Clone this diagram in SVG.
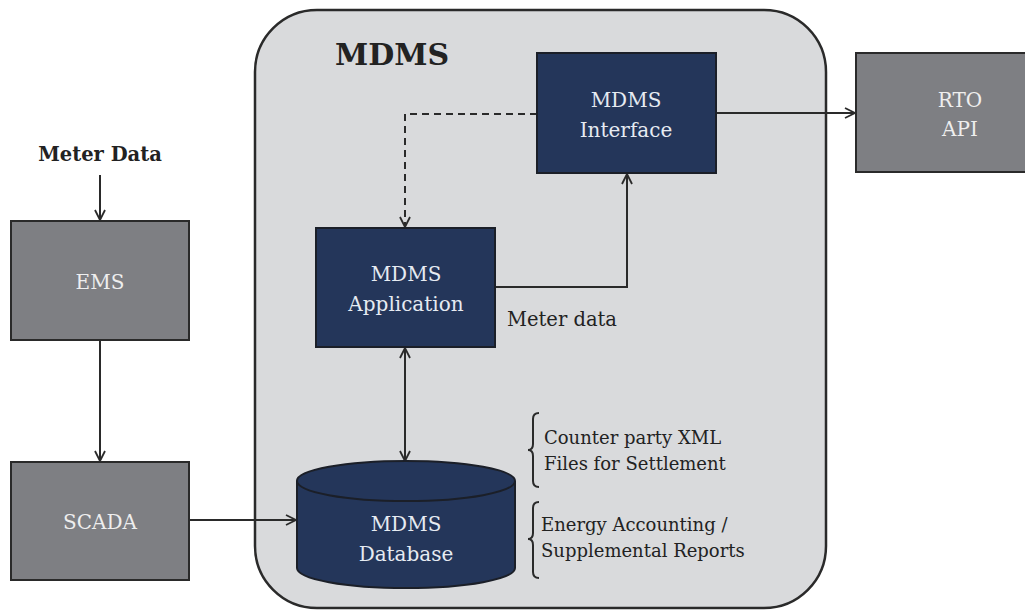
<svg xmlns="http://www.w3.org/2000/svg" width="1025" height="610" viewBox="0 0 1025 610">
<style>
.t{font-family:"DejaVu Serif","Liberation Serif",serif;}
.navy{fill:#24365a;stroke:#1b1f28;stroke-width:2;}
.grey{fill:#7e7f83;stroke:#2a2a2a;stroke-width:2;}
.wt{fill:#e6ebf2;font-size:20px;text-anchor:middle;}
.gt{fill:#eeeeee;font-size:20px;text-anchor:middle;}
.dk{fill:#222222;}
.ln{fill:none;stroke:#2a2a2a;stroke-width:2;}
</style>
<defs>
<marker id="ah" viewBox="0 0 12 12" refX="11" refY="6" markerWidth="12" markerHeight="12" markerUnits="userSpaceOnUse" orient="auto-start-reverse">
<path d="M1,1 L11,6 L1,11" fill="none" stroke="#2a2a2a" stroke-width="1.8"/>
</marker>
</defs>
<rect width="1025" height="610" fill="#ffffff"/>
<g id="mdms-container">
<rect x="255" y="10" width="571" height="598" rx="62" fill="#d9dadc" stroke="#2a2a2a" stroke-width="2.5"/>
<text class="t dk" x="335" y="65" font-size="30" font-weight="bold">MDMS</text>
</g>
<g id="connectors">
<line class="ln" x1="100" y1="175" x2="100" y2="220" marker-end="url(#ah)"/>
<line class="ln" x1="100" y1="340" x2="100" y2="461" marker-end="url(#ah)"/>
<line class="ln" x1="189" y1="520" x2="296" y2="520" marker-end="url(#ah)"/>
<line class="ln" x1="716" y1="113" x2="855" y2="113" marker-end="url(#ah)"/>
<polyline class="ln" points="537,114 405,114 405,227" stroke-dasharray="7,5" marker-end="url(#ah)"/>
<polyline class="ln" points="495,287 627,287 627,174" marker-end="url(#ah)"/>
<line class="ln" x1="405" y1="348" x2="405" y2="461" marker-start="url(#ah)" marker-end="url(#ah)"/>
</g>
<g id="meter-data-label">
<text class="t dk" x="100" y="161" font-size="19.5" font-weight="bold" text-anchor="middle">Meter Data</text>
</g>
<g id="ems">
<rect class="grey" x="11" y="221" width="178" height="119"/>
<text class="t gt" x="100" y="289">EMS</text>
</g>
<g id="scada">
<rect class="grey" x="11" y="462" width="178" height="118"/>
<text class="t gt" x="100" y="529">SCADA</text>
</g>
<g id="rto-api">
<rect class="grey" x="856" y="53" width="175" height="119"/>
<text class="t gt" x="960" y="107">RTO</text>
<text class="t gt" x="960" y="136">API</text>
</g>
<g id="mdms-interface">
<rect class="navy" x="537" y="53" width="179" height="120"/>
<text class="t wt" x="626" y="107">MDMS</text>
<text class="t wt" x="626" y="137">Interface</text>
</g>
<g id="mdms-application">
<rect class="navy" x="316" y="228" width="179" height="119"/>
<text class="t wt" x="406" y="281">MDMS</text>
<text class="t wt" x="406" y="311">Application</text>
<text class="t dk" x="507" y="326" font-size="19.5">Meter data</text>
</g>
<g id="mdms-database">
<path class="navy" d="M297,481 L297,568 A109,20 0 0 0 515,568 L515,481 A109,20 0 0 0 297,481 Z"/>
<path d="M297,481 A109,20 0 0 0 515,481" fill="none" stroke="#1b1f28" stroke-width="2"/>
<text class="t wt" x="406" y="531">MDMS</text>
<text class="t wt" x="406" y="561">Database</text>
</g>
<g id="outputs">
<path class="ln" stroke-width="1.5" d="M539,413 Q533,413 533,419 L533,444 Q533,450 528,450 Q533,450 533,456 L533,481 Q533,487 539,487"/>
<text class="t dk" x="544" y="444" font-size="18">Counter party XML</text>
<text class="t dk" x="544" y="470" font-size="18">Files for Settlement</text>
<path class="ln" stroke-width="1.5" d="M539,502 Q533,502 533,508 L533,533 Q533,539 528,539 Q533,539 533,545 L533,572 Q533,578 539,578"/>
<text class="t dk" x="541" y="531" font-size="18">Energy Accounting /</text>
<text class="t dk" x="541" y="557" font-size="18">Supplemental Reports</text>
</g>
</svg>
